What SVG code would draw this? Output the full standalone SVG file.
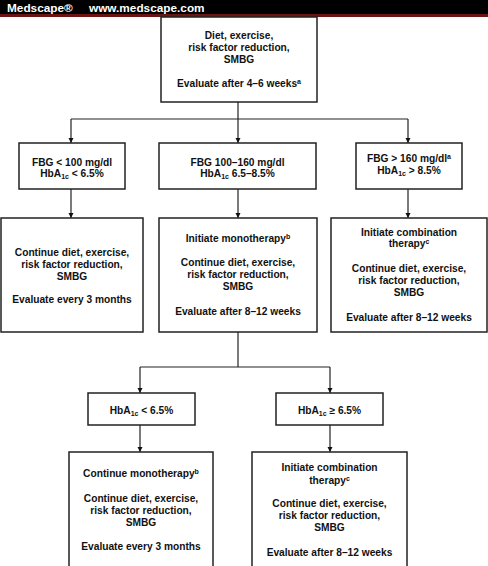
<svg xmlns="http://www.w3.org/2000/svg" width="488" height="566" viewBox="0 0 488 566">
<defs>
<style>
.box{fill:#fff;stroke:#222;stroke-width:1.5}
.ln{fill:none;stroke:#222;stroke-width:1.2}
text{font-family:"Liberation Sans",Arial,sans-serif;font-weight:bold;font-size:10.2px;fill:#111;text-anchor:middle}
.hd{fill:#fff;font-size:11.8px;text-anchor:start}
.sub{font-size:7px}
</style>
<marker id="ah" viewBox="0 0 10 10" refX="10" refY="5" markerWidth="5" markerHeight="7" markerUnits="userSpaceOnUse" orient="auto"><path d="M0,0 L10,5 L0,10 z" fill="#111"/></marker>
</defs>
<rect width="488" height="566" fill="#fff"/>
<g id="header">
<rect x="0" y="0" width="488" height="14" fill="#000"/>
<rect x="0" y="14" width="488" height="3" fill="#6b1414"/>
<text class="hd" x="7" y="11.5">Medscape®</text>
<text class="hd" x="89" y="11.5">www.medscape.com</text>
</g>
<g id="connectors">
<path class="ln" d="M238,102 V119"/>
<path class="ln" d="M71,119 H408"/>
<path class="ln" d="M71,119 V143" marker-end="url(#ah)"/>
<path class="ln" d="M238,119 V143" marker-end="url(#ah)"/>
<path class="ln" d="M408,119 V143" marker-end="url(#ah)"/>
<path class="ln" d="M71,189 V218" marker-end="url(#ah)"/>
<path class="ln" d="M238,189 V218" marker-end="url(#ah)"/>
<path class="ln" d="M408,189 V218" marker-end="url(#ah)"/>
<path class="ln" d="M238,332 V367"/>
<path class="ln" d="M140,367 H330"/>
<path class="ln" d="M140,367 V393" marker-end="url(#ah)"/>
<path class="ln" d="M330,367 V393" marker-end="url(#ah)"/>
<path class="ln" d="M140,425 V452" marker-end="url(#ah)"/>
<path class="ln" d="M330,425 V452" marker-end="url(#ah)"/>
</g>
<g id="start">
<rect class="box" x="161" y="17" width="156" height="85"/>
<text x="239" y="38.5">Diet, exercise,</text>
<text x="239" y="50.5">risk factor reduction,</text>
<text x="239" y="62.5">SMBG</text>
<text x="239" y="86.5">Evaluate after 4–6 weeks<tspan class="sub" dy="-3">a</tspan></text>
</g>
<g id="fbg-low">
<rect class="box" x="19" y="143" width="106" height="46"/>
<text x="72" y="165.5">FBG &lt; 100 mg/dl</text>
<text x="72" y="176.5">HbA<tspan class="sub" dy="2">1c</tspan><tspan dy="-2"> &lt; 6.5%</tspan></text>
</g>
<g id="fbg-mid">
<rect class="box" x="159" y="143" width="157" height="46"/>
<text x="237.5" y="165.5">FBG 100–160 mg/dl</text>
<text x="237.5" y="176.5">HbA<tspan class="sub" dy="2">1c</tspan><tspan dy="-2"> 6.5–8.5%</tspan></text>
</g>
<g id="fbg-high">
<rect class="box" x="356" y="143" width="106" height="46"/>
<text x="409" y="161.5">FBG &gt; 160 mg/dl<tspan class="sub" dy="-3">a</tspan></text>
<text x="409" y="173.5">HbA<tspan class="sub" dy="2">1c</tspan><tspan dy="-2"> &gt; 8.5%</tspan></text>
</g>
<g id="continue-diet">
<rect class="box" x="1" y="218" width="142" height="114"/>
<text x="72" y="255.5">Continue diet, exercise,</text>
<text x="72" y="267.5">risk factor reduction,</text>
<text x="72" y="279.5">SMBG</text>
<text x="72" y="302.5">Evaluate every 3 months</text>
</g>
<g id="monotherapy">
<rect class="box" x="159" y="218" width="158" height="114"/>
<text x="238" y="241.5">Initiate monotherapy<tspan class="sub" dy="-3">b</tspan></text>
<text x="238" y="265.5">Continue diet, exercise,</text>
<text x="238" y="277.5">risk factor reduction,</text>
<text x="238" y="289.5">SMBG</text>
<text x="238" y="314.5">Evaluate after 8–12 weeks</text>
</g>
<g id="combination-1">
<rect class="box" x="331" y="218" width="156" height="114"/>
<text x="409" y="235.5">Initiate combination</text>
<text x="409" y="246.5">therapy<tspan class="sub" dy="-3">c</tspan></text>
<text x="409" y="271.5">Continue diet, exercise,</text>
<text x="409" y="283.5">risk factor reduction,</text>
<text x="409" y="295.5">SMBG</text>
<text x="409" y="320.5">Evaluate after 8–12 weeks</text>
</g>
<g id="hba-low">
<rect class="box" x="88" y="393" width="107" height="32"/>
<text x="141.5" y="413.5">HbA<tspan class="sub" dy="2">1c</tspan><tspan dy="-2"> &lt; 6.5%</tspan></text>
</g>
<g id="hba-high">
<rect class="box" x="276" y="393" width="107" height="32"/>
<text x="329.5" y="413.5">HbA<tspan class="sub" dy="2">1c</tspan><tspan dy="-2"> ≥ 6.5%</tspan></text>
</g>
<g id="continue-mono">
<rect class="box" x="69" y="452" width="144" height="120"/>
<text x="141" y="476.5">Continue monotherapy<tspan class="sub" dy="-3">b</tspan></text>
<text x="141" y="501.5">Continue diet, exercise,</text>
<text x="141" y="513.5">risk factor reduction,</text>
<text x="141" y="525.5">SMBG</text>
<text x="141" y="549.5">Evaluate every 3 months</text>
</g>
<g id="combination-2">
<rect class="box" x="252" y="452" width="155" height="120"/>
<text x="329.5" y="470.5">Initiate combination</text>
<text x="329.5" y="483.5">therapy<tspan class="sub" dy="-3">c</tspan></text>
<text x="329.5" y="506.5">Continue diet, exercise,</text>
<text x="329.5" y="518.5">risk factor reduction,</text>
<text x="329.5" y="530.5">SMBG</text>
<text x="329.5" y="555.5">Evaluate after 8–12 weeks</text>
</g>
</svg>
